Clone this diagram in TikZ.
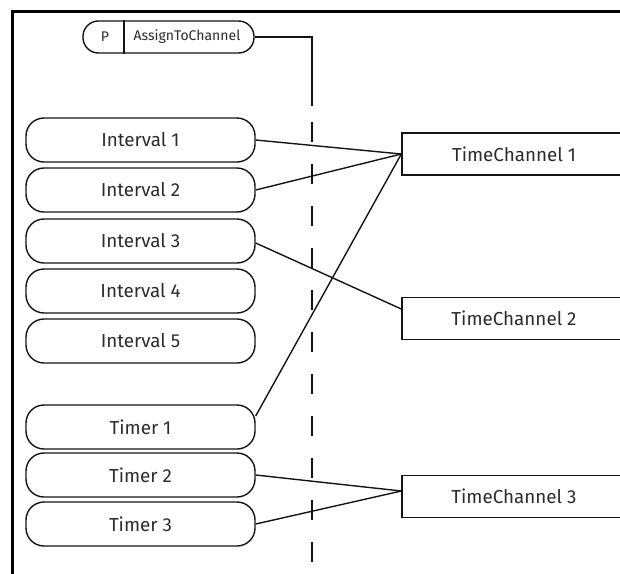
\documentclass[tikz,border=0pt]{standalone}
\usepackage{fontspec}
\setsansfont{Fira Sans}
\usetikzlibrary{calc}
\definecolor{cink}{HTML}{141414}
\definecolor{ctext}{HTML}{2B2B2B}
\tikzset{
  every picture/.style={font=\sffamily, line width=1.4pt},
  pill/.style={draw=cink, rounded corners=18pt, minimum width=229pt, minimum height=44pt, inner sep=0pt, text=ctext, font=\sffamily\fontsize{18.8}{22}\selectfont},
  chan/.style={draw=cink, minimum width=224pt, minimum height=42pt, inner sep=0pt, text=ctext, font=\sffamily\fontsize{18.8}{22}\selectfont},
  tag/.style={inner sep=0pt, text=ctext, font=\sffamily\fontsize{14}{17}\selectfont},
  link/.style={draw=cink, line width=1.4pt},
  frame/.style={draw=black, line width=3pt},
  bus/.style={draw=cink, line width=1.6pt, dash pattern=on 20pt off 22pt, dash phase=26pt},
}

\begin{document}
\begin{tikzpicture}[x=1pt, y=-1pt]
  \useasboundingbox (0,0) rectangle (620,573);
  \clip (0,0) rectangle (620,573);
  % frame
  \draw[frame] (12,600) -- (12,11) -- (640,11);
  % parameter
  \node[pill, minimum width=171pt, minimum height=32pt, rounded corners=15.5pt] (param) at (168.5,37) {};
  \coordinate (split) at (124,37);
  \node[tag] (ptype) at (105,37) {P};
  \node[tag] (pname) at (187,37) {AssignToChannel};
  \draw[link] (param.north -| split) -- (param.south -| split);
  \coordinate (busend) at (312,106);
  \coordinate (busfoot) at (312,600);
  \draw[link] (param.east) -| (busend);
  \draw[bus] (busend) -- (busfoot);
  % intervals and timers
  \foreach \i/\y in {1/140,2/190,3/241,4/291,5/341}
    \node[pill] (int\i) at (140.5,\y) {Interval \i};
  \foreach \i/\y in {1/427,2/475,3/524}
    \node[pill] (tim\i) at (140.5,\y) {Timer \i};
  % time channels
  \foreach \i/\y in {1/154,2/318.5,3/496.5}
    \node[chan] (tc\i) at (514,\y) {TimeChannel \i};
  \draw[link] (int1.east) -- (tc1.west);
  \draw[link] (int2.east) -- (tc1.west);
  \draw[link] ([yshift=-2pt]int3.east) -- ([yshift=9.5pt]tc2.west);
  \draw[link] ([yshift=11pt]tim1.east) -- (tc1.west);
  \draw[link] (tim2.east) -- ([yshift=5.5pt]tc3.west);
  \draw[link] (tim3.east) -- ([yshift=5.5pt]tc3.west);
\end{tikzpicture}
\end{document}
